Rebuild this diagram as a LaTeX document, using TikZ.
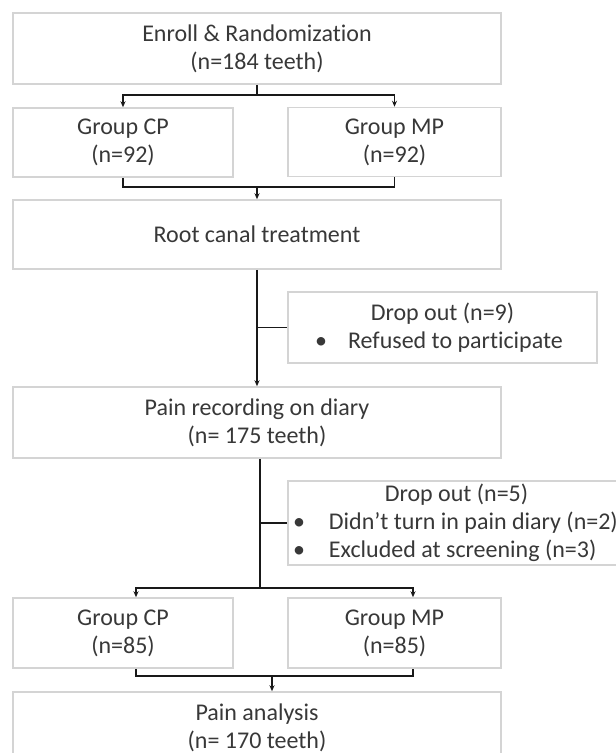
\documentclass[tikz,border=0pt]{standalone}
\usepackage{fontspec}
\setmainfont{Carlito}[Ligatures={NoCommon,NoDiscretionary,NoContextual}]
\usetikzlibrary{arrows.meta,calc}
\definecolor{boxgray}{HTML}{D4D4D4}
\definecolor{textgray}{HTML}{383838}
\tikzset{
  flowbox/.style={draw=boxgray, line width=1.5pt, inner sep=0pt, text=textgray, align=center,
    font=\fontsize{24}{28}\selectfont},
  link/.style={line width=1.6pt, black!90},
  arrowlink/.style={link, -{Stealth[length=6pt,width=5pt]}}
}
\newcommand{\bulitem}[1]{\makebox[#1][l]{\hspace{-7pt}\textbullet}}
\begin{document}
	\begin{tikzpicture}[x=1pt, y=-1pt]
		\useasboundingbox (0,0) rectangle (616,753);
		\clip (0,0) rectangle (616,753);

		% Innrullering
		\node[flowbox, minimum width=488pt, minimum height=71pt] (enroll) at (257,48.5) {Enroll \& Randomization\\(n=184 teeth)};

		% Forste gruppering
		\node[flowbox, minimum width=220pt, minimum height=69pt] (cp1) at (123,142.5) {Group CP\\(n=92)};
		\node[flowbox, minimum width=213pt, minimum height=69pt] (mp1) at (394.5,142) {Group MP\\(n=92)};

		% Behandling
		\node[flowbox, minimum width=488pt, minimum height=69pt] (root) at (257,234.5) {Root canal treatment};

		% Frafall 1
		\node[flowbox, minimum width=309pt, minimum height=71pt] (drop1) at (442.5,327.5) {Drop out (n=9)\\\bulitem{26pt}Refused to participate};

		% Smertedagbok
		\node[flowbox, minimum width=488pt, minimum height=71pt] (painrec) at (257,422.5) {Pain recording on diary\\(n= 175 teeth)};

		% Frafall 2
		\node[flowbox, minimum width=337pt, minimum height=84pt] (drop2) at (456.5,523) {Drop out (n=5)\\
			\makebox[313pt][l]{\bulitem{29pt}Didn’t turn in pain diary (n=2)}\\
			\makebox[313pt][l]{\bulitem{29pt}Excluded at screening (n=3)}};

		% Andre gruppering
		\node[flowbox, minimum width=220pt, minimum height=70pt] (cp2) at (123,633) {Group CP\\(n=85)};
		\node[flowbox, minimum width=213pt, minimum height=70pt] (mp2) at (394.5,633) {Group MP\\(n=85)};

		% Analyse
		\node[flowbox, minimum width=488pt, minimum height=71pt] (analysis) at (257,727.5) {Pain analysis\\(n= 170 teeth)};

		% Forgrening til gruppene
		\coordinate (split1) at ($(enroll.south)+(0,10)$);
		\draw[link] (enroll.south) -- (split1);
		\draw[arrowlink] (split1) -| (cp1.north);
		\draw[arrowlink] (split1) -| (mp1.north);

		% Samling til behandling
		\coordinate (join1) at ($(root.north)+(0,-12)$);
		\draw[link] (cp1.south) |- (join1) -| (mp1.south);
		\draw[arrowlink] (join1) -- (root.north);

		% Behandling til dagbok, med frafall
		\draw[arrowlink] (root.south) -- (painrec.north);
		\draw[link] (root.south |- drop1.west) -- (drop1.west);

		% Dagbok til gruppene, med frafall
		\coordinate (stem2) at ($(painrec.south)+(3,0)$);
		\coordinate (split2) at ($(stem2)+(0,129)$);
		\coordinate (cp2top) at ($(cp2.north)+(13,0)$);
		\coordinate (mp2top) at ($(mp2.north)+(18.5,0)$);
		\draw[link] (stem2) -- (split2);
		\draw[link] (stem2 |- drop2.west) -- (drop2.west);
		\draw[arrowlink] (split2) -| (cp2top);
		\draw[arrowlink] (split2) -| (mp2top);

		% Samling til analyse
		\coordinate (cp2bot) at ($(cp2.south)+(13,0)$);
		\coordinate (mp2bot) at ($(mp2.south)+(18.5,0)$);
		\coordinate (join2) at ($(analysis.north)+(15,-15)$);
		\coordinate (analysistop) at ($(analysis.north)+(15,0)$);
		\draw[link] (cp2bot) |- (join2) -| (mp2bot);
		\draw[arrowlink] (join2) -- (analysistop);
	\end{tikzpicture}
\end{document}
